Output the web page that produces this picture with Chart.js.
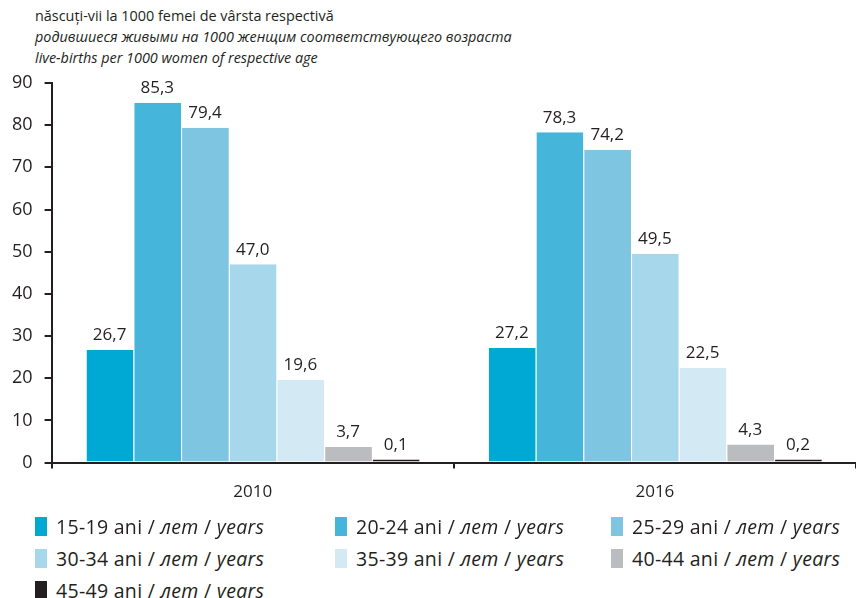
<!DOCTYPE html>
<html>
<head>
<meta charset="utf-8">
<script src="https://cdn.jsdelivr.net/npm/chart.js@4.4.1/dist/chart.umd.min.js"></script>
<style>
  body { margin: 0; background: #fff; font-family: 'Open Sans', sans-serif; color: #231f20; }
  #wrap { position: relative; width: 856px; height: 598px; }
  #title { position: absolute; left: 35px; top: 5px; font-size: 14.4px; line-height: 21px; }
  #title i { display: block; }
  #chart { position: absolute; left: 0; top: 0; }
  #legend { position: absolute; left: 35px; top: 517px; width: 820px; font-size: 19.5px; letter-spacing: 0.3px; }
  .item { position: absolute; display: flex; align-items: center; white-space: nowrap; height: 19px; }
  .sw { width: 12px; height: 19px; margin-right: 9px; flex: none; }
</style>
</head>
<body>
<div id="wrap">
  <div id="title">născuți-vii la 1000 femei de vârsta respectivă
    <i>родившиеся живыми на 1000 женщим соответствующего возраста</i>
    <i>live-births per 1000 women of respective age</i></div>
  <canvas id="chart" width="856" height="515"></canvas>
  <div id="legend"></div>
</div>
<script>
const years = ['2010', '2016'];
const ageGroups = ['15-19', '20-24', '25-29', '30-34', '35-39', '40-44', '45-49'];
const values2010 = [26.7, 85.3, 79.4, 47.0, 19.6, 3.7, 0.1];
const values2016 = [27.2, 78.3, 74.2, 49.5, 22.5, 4.3, 0.2];
const yTicks = [0, 10, 20, 30, 40, 50, 60, 70, 80, 90];
const colors = ['#00a8d4', '#45b6da', '#7dc5e0', '#a6d7ea', '#d3e9f4', '#bbbcbf', '#231f20'];

const ink = '#231f20';

// value labels above each bar, with a decimal comma
const valueLabels = {
  id: 'valueLabels',
  afterDatasetsDraw(chart) {
    const ctx = chart.ctx;
    ctx.save();
    ctx.font = '17px "Open Sans", sans-serif';
    ctx.fillStyle = ink;
    ctx.textAlign = 'center';
    ctx.textBaseline = 'bottom';
    chart.data.datasets.forEach((ds, i) => {
      chart.getDatasetMeta(i).data.forEach((bar, j) => {
        ctx.fillText(ds.data[j].toFixed(1).replace('.', ','), bar.x, bar.y - 6);
      });
    });
    ctx.restore();
  }
};

new Chart(document.getElementById('chart'), {
  type: 'bar',
  data: {
    labels: years,
    datasets: ageGroups.map((g, i) => ({
      label: g + ' ani / лет / years',
      data: [values2010[i], values2016[i]],
      backgroundColor: colors[i],
      borderColor: '#ffffff',
      borderWidth: { left: 1, right: 0, top: 0, bottom: 0 },
      borderSkipped: false,
      minBarLength: 3,
      categoryPercentage: 0.83,
      barPercentage: 1
    }))
  },
  options: {
    responsive: false,
    animation: false,
    layout: { padding: { top: 83, right: 0, left: 0, bottom: 0 } },
    plugins: { legend: { display: false }, tooltip: { enabled: false } },
    scales: {
      x: {
        grid: { offset: true, drawOnChartArea: false, color: ink, lineWidth: 2, tickLength: 6 },
        border: { color: ink, width: 2 },
        ticks: { color: ink, font: { family: 'Open Sans', size: 17 }, padding: 13 }
      },
      y: {
        min: 0,
        max: 90,
        afterBuildTicks: axis => { axis.ticks = yTicks.map(v => ({ value: v })); },
        grid: { drawOnChartArea: false, color: ink, lineWidth: 2, tickLength: 7 },
        border: { color: ink, width: 2 },
        ticks: { color: ink, font: { family: 'Open Sans', size: 18 }, padding: 12 }
      }
    }
  },
  plugins: [valueLabels]
});

const legend = document.getElementById('legend');
ageGroups.forEach((g, i) => {
  const el = document.createElement('div');
  el.className = 'item';
  el.style.left = [0, 300, 576][i % 3] + 'px';
  el.style.top = Math.floor(i / 3) * 32 + 'px';
  el.innerHTML = '<span class="sw" style="background:' + colors[i] + '"></span>' +
    '<span>' + g + ' ani / <i>лет</i> / <i>years</i></span>';
  legend.appendChild(el);
});
</script>
</body>
</html>
